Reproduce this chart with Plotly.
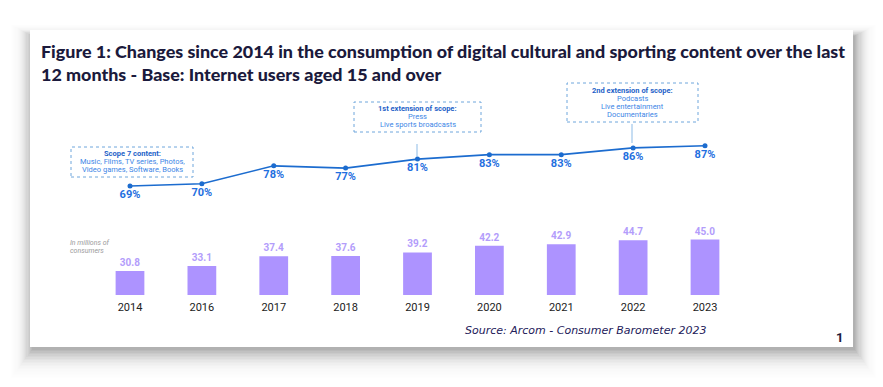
import plotly.graph_objects as go

years = ["2014", "2016", "2017", "2018", "2019", "2020", "2021", "2022", "2023"]
consumers_millions = [30.8, 33.1, 37.4, 37.6, 39.2, 42.2, 42.9, 44.7, 45.0]
share_pct = [69, 70, 78, 77, 81, 83, 83, 86, 87]

title_text = ("Figure 1: Changes since 2014 in the consumption of digital cultural and sporting content over the last"
              "<br>12 months - Base: Internet users aged 15 and over")
source_text = "Source: Arcom - Consumer Barometer 2023"
scope_lines = ["Scope 7 content:", "Music, Films, TV series, Photos,", "Video games, Software, Books"]
ext1_lines = ["1st extension of scope:", "Press", "Live sports broadcasts"]
ext2_lines = ["2nd extension of scope:", "Podcasts", "Live entertainment", "Documentaries"]

W, H = 883, 387


def px(x):
    return x / W


def py(y):
    return 1 - y / H


fig = go.Figure()

fig.add_trace(go.Bar(
    x=years, y=consumers_millions, width=0.40,
    marker=dict(color="#ad93ff", line=dict(width=0)),
    text=[f"{v:.1f}" for v in consumers_millions], textposition="outside",
    textfont=dict(color="#b39dfb", size=10, family="Roboto", weight="bold"),
    cliponaxis=False, yaxis="y", showlegend=False, hoverinfo="skip",
))

fig.add_trace(go.Scatter(
    x=years, y=share_pct, mode="lines+markers+text", yaxis="y2",
    line=dict(color="#1c6ccf", width=1.6),
    marker=dict(color="#1c6ccf", size=5),
    text=[f"{v}%" for v in share_pct], textposition="bottom center",
    textfont=dict(color="#1f6fe0", size=11, family="Roboto", weight="bold"),
    cliponaxis=False, showlegend=False, hoverinfo="skip",
))

shapes = []
# soft drop shadow, stronger at the bottom; fades out towards the outside
n = 20
for i in range(n):
    t = i / (n - 1)
    g = 28 * (1 - t)
    a = 0.003 + 0.04 * t ** 2
    shapes.append(dict(type="rect", xref="paper", yref="paper", layer="below",
                       x0=px(round(32 - g * 0.75)), x1=px(round(855 + g * 0.75)),
                       y0=py(round(350 + g)), y1=py(round(36 - g * 0.4)),
                       fillcolor=f"rgba(0,0,0,{a:.4f})", line=dict(width=0, color="rgba(0,0,0,0)")))
# card
shapes.append(dict(type="rect", xref="paper", yref="paper", layer="below",
                   x0=px(30), x1=px(853), y0=py(347), y1=py(30),
                   fillcolor="white", line=dict(width=0, color="rgba(0,0,0,0)")))

box_col = "#6fa6dc"
for (x0, y0, x1, y1) in [(71, 147, 193, 177), (354, 102, 481, 132), (567, 83, 698, 122)]:
    shapes.append(dict(type="rect", xref="paper", yref="paper", x0=px(x0), x1=px(x1), y0=py(y1), y1=py(y0),
                       line=dict(color=box_col, width=1, dash="dot"), fillcolor="rgba(0,0,0,0)"))
for (x, y0, y1) in [(417, 144, 157), (632, 124, 143)]:
    shapes.append(dict(type="line", xref="paper", yref="paper", x0=px(x), x1=px(x), y0=py(y0), y1=py(y1),
                       line=dict(color="#8dbbe6", width=1)))

annotations = [
    dict(text=title_text, x=px(39), y=py(38), xref="paper", yref="paper", xanchor="left", yanchor="top",
         align="left", showarrow=False,
         font=dict(family="Lato", size=17.9, color="#1b1a3c", weight=900)),
    dict(text=source_text, x=px(463), y=py(330), xref="paper", yref="paper", xanchor="left", yanchor="middle",
         showarrow=False, font=dict(family="DejaVu Sans", size=11, color="#23205a", style="italic")),
    dict(text="1", x=px(839), y=py(337), xref="paper", yref="paper", xanchor="center", yanchor="middle",
         showarrow=False, font=dict(family="Roboto", size=13, color="#1b1a3c", weight="bold")),
    dict(text="In millions of", x=px(68), y=py(243), xref="paper", yref="paper", xanchor="left", yanchor="middle",
         showarrow=False, font=dict(family="Roboto", size=7, color="#9a9a9a", style="italic")),
    dict(text="consumers", x=px(68), y=py(251), xref="paper", yref="paper", xanchor="left", yanchor="middle",
         showarrow=False, font=dict(family="Roboto", size=7, color="#9a9a9a", style="italic")),
]


def box_text(lines, cx, ys):
    for i, (t, y) in enumerate(zip(lines, ys)):
        annotations.append(dict(text=t, x=px(cx), y=py(y), xref="paper", yref="paper",
                                xanchor="center", yanchor="middle", showarrow=False,
                                font=dict(family="Roboto", size=7.5,
                                          color="#1d5fc8" if i == 0 else "#3d86e6",
                                          weight="bold" if i == 0 else "normal")))


box_text(scope_lines, 132, [153, 161, 169.3])
box_text(ext1_lines, 417.5, [108.3, 116.3, 124.3])
box_text(ext2_lines, 632.5, [90.7, 98.5, 106.2, 114.3])

fig.update_layout(
    width=W, height=H, margin=dict(l=0, r=0, t=0, b=0),
    paper_bgcolor="white", plot_bgcolor="rgba(0,0,0,0)",
    shapes=shapes, annotations=annotations,
    xaxis=dict(domain=[px(130 - 35.94), px(705 + 35.94)], range=[-0.5, 8.5], type="category",
               showgrid=False, zeroline=False, showline=False, ticks="", ticklabelstandoff=4,
               tickfont=dict(family="Roboto", size=11, color="#222222"), fixedrange=True),
    yaxis=dict(domain=[(H - 295) / H, 1], range=[20, 20 + 295 / 2.22], visible=False, fixedrange=True),
    yaxis2=dict(overlaying="y", range=[20.34, 20.34 + 295 / 2.24], visible=False, fixedrange=True),
    bargap=0.6,
)

fig.write_html("out.html", config={"displayModeBar": False},
               post_script="document.body.style.margin='0';document.body.style.overflow='hidden';")
